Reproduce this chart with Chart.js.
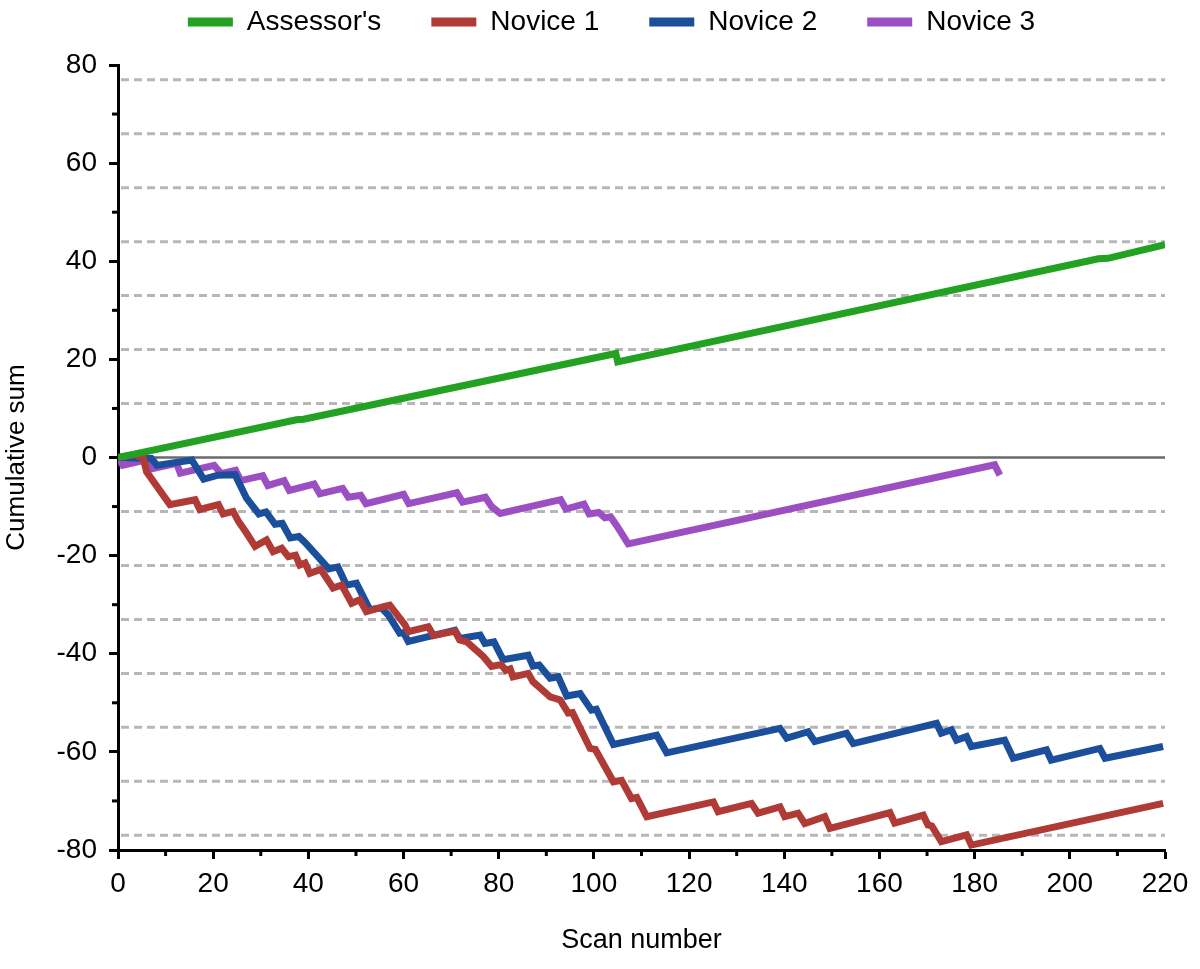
<!DOCTYPE html>
<html>
<head>
<meta charset="utf-8">
<title>Cumulative sum chart</title>
<script src="https://cdn.jsdelivr.net/npm/chart.js"></script>
<style>
body{margin:0;background:#fff;}
#wrap{width:1200px;height:969px;}
</style>
</head>
<body>
<div id="wrap"><canvas id="cusumChart" width="1200" height="969"></canvas></div>
<script>

/* -------- DATA (scan number, cumulative sum) -------- */

const seriesNames = ["Assessor's","Novice 1","Novice 2","Novice 3"];

const assessor = [[0,0],[37.5,7.7],[39,7.8],[104.6,21.2],[105,19.5],[206,40.5],[208,40.6],[220,43.4]];

const novice1 = [[0,0],[3.3,0.6],[5.3,-0.1],[6,-2.9],[10.9,-9.6],[16.2,-8.6],[17.2,-10.6],[21.1,-9.6],[22.1,-11.5],[24.2,-11],[25.3,-13],[27,-15.4],[28.8,-18.1],[31.2,-16.8],[32.6,-19.2],[34.4,-18.5],[35.8,-20.2],[37.3,-19.9],[38.2,-21.9],[39.3,-21.5],[40.3,-23.6],[42.6,-22.8],[45.2,-26.6],[47,-26],[49.1,-29.7],[50.8,-29],[52.2,-31.4],[55.4,-30.5],[57.1,-30.1],[60.3,-34.1],[61,-35.5],[65.2,-34.5],[66.3,-36.3],[70.8,-35.4],[71.8,-37.2],[73.3,-37.6],[76.8,-40.6],[78.5,-42.6],[80.5,-42.2],[81.5,-43.4],[82.4,-43.1],[83,-44.7],[86.2,-44],[87.2,-45.7],[88.5,-46.8],[90.8,-48.8],[92.9,-49.4],[94.6,-52.1],[95.5,-52],[99.2,-59.3],[100.3,-59.5],[104.1,-66.1],[105.8,-65.8],[107.9,-69.5],[109,-69.3],[111.1,-73.2],[125.1,-70.2],[126.1,-72.2],[133.1,-70.5],[134.5,-72.5],[139.1,-71.2],[140.1,-73.2],[142.9,-72.5],[144.3,-74.6],[148.5,-73.2],[149.6,-75.6],[162.2,-72.4],[163.2,-74.5],[169.2,-72.9],[170.2,-74.9],[171,-75.1],[173,-78.3],[178.3,-76.9],[179.3,-79],[219.6,-70.5]];

const novice2 = [[0,0],[7,-0.2],[8.2,-1.6],[15.5,-0.5],[18,-4.4],[21,-3.6],[24.6,-3.5],[27,-8.3],[29.6,-11.5],[31.1,-11.1],[33,-13.6],[34.5,-13.4],[36.2,-16.4],[38,-16.1],[39.2,-17.2],[42,-20.2],[44.3,-22.7],[46.2,-22.3],[48,-26],[50.1,-25.6],[52.9,-31],[55.4,-30.7],[56.8,-32.1],[59.2,-35.8],[60,-35.7],[61,-37.5],[70.8,-35.2],[71.8,-36.9],[76.1,-36.2],[77.1,-37.9],[79,-37.6],[80.9,-41.2],[86.2,-40.3],[87.2,-42.5],[88.5,-42.3],[90.8,-45],[92.5,-44.7],[94.3,-48.6],[97.1,-48.1],[99.5,-51.5],[100.5,-51.3],[104.1,-58.5],[113.2,-56.6],[115.3,-60.2],[139.1,-55.2],[140.5,-57.2],[145,-55.9],[146.4,-57.9],[153.1,-56.2],[154.5,-58.3],[172,-54.2],[173,-56.2],[175.1,-55.5],[176.2,-57.6],[178.3,-56.9],[179.3,-58.9],[186.3,-57.6],[188.1,-61.3],[195.1,-59.6],[196.1,-61.7],[206.3,-59.3],[207.4,-61.3],[219.6,-58.9]];

const novice3 = [[0,0],[1,-1.6],[6,-0.5],[7.1,-2.3],[12.3,-1.2],[13.1,-3.2],[20.2,-1.6],[21.7,-3.3],[24.7,-2.6],[25.8,-4.7],[30.4,-3.7],[31.5,-5.7],[34.9,-4.7],[36,-6.7],[41.2,-5.4],[42.4,-7.4],[47.2,-6.3],[48.4,-8.1],[51,-7.7],[52.1,-9.4],[60,-7.5],[61.1,-9.4],[71.2,-7.2],[72.4,-9.1],[77.2,-8.1],[78.5,-10],[80.3,-11.4],[93,-8.6],[94.1,-10.5],[97.9,-9.5],[99,-11.5],[101,-11.2],[102.3,-12.3],[103.5,-12.1],[104.8,-13.9],[107.2,-17.6],[184.2,-1.5],[185.3,-3.6]];

// horizontal limit lines (dashed) and the zero line
const limitLines = [-77,-66,-55,-44,-33,-22,-11,11,22,33,44,55,66,77];
const zeroLine = 0;

// minor tick positions
const xMinorTicks = [10,30,50,70,90,110,130,150,170,190,210];
const yMinorTicks = [-70,-50,-30,-10,10,30,50,70];

const colors = ["#22a122","#b03a36","#1b4f9b","#9b4fc3"];


/* -------- HELPERS -------- */

function toPoints(arr){
return arr.map(p=>({x:p[0],y:p[1]}));
}

Chart.defaults.font.family = "'Liberation Sans', Arial, sans-serif";
Chart.defaults.color = "#000";


/* -------- PLUGINS -------- */

const refLines = {
id:"refLines",
beforeDatasetsDraw(chart){
const c = chart.ctx;
const xs = chart.scales.x;
const ys = chart.scales.y;
const area = chart.chartArea;
c.save();
c.strokeStyle = "#b7b7b7";
c.lineWidth = 3;
c.setLineDash([8,5]);
limitLines.forEach(v=>{
const py = ys.getPixelForValue(v);
c.beginPath();
c.moveTo(area.left+3,py);
c.lineTo(area.right,py);
c.stroke();
});
c.setLineDash([]);
c.strokeStyle = "#6a6a6a";
c.lineWidth = 2.5;
const pz = ys.getPixelForValue(zeroLine);
c.beginPath();
c.moveTo(xs.getPixelForValue(0),pz);
c.lineTo(xs.getPixelForValue(220),pz);
c.stroke();
c.restore();
}
};

const minorTicks = {
id:"minorTicks",
afterDraw(chart){
const c = chart.ctx;
const xs = chart.scales.x;
const ys = chart.scales.y;
const area = chart.chartArea;
c.save();
c.strokeStyle = "#000";
c.lineWidth = 3;
xMinorTicks.forEach(v=>{
const px = xs.getPixelForValue(v);
c.beginPath();
c.moveTo(px,area.bottom);
c.lineTo(px,area.bottom+6);
c.stroke();
});
yMinorTicks.forEach(v=>{
const py = ys.getPixelForValue(v);
c.beginPath();
c.moveTo(area.left-6,py);
c.lineTo(area.left,py);
c.stroke();
});
c.restore();
}
};

// move the legend into place after the layout is done
const legendPlace = {
id:"legendPlace",
afterLayout(chart){
const lg = chart.legend;
lg.left += 29;
lg.right += 29;
lg.top -= 19;
lg.bottom -= 19;
}
};


/* -------- CHART -------- */

const allSeries = [assessor,novice1,novice2,novice3];
const drawOrder = [0,1,2,3];

const ctx = document.getElementById("cusumChart").getContext("2d");

new Chart(ctx,{
type:"line",
data:{
datasets: allSeries.map((s,i)=>({
label:seriesNames[i],
data:toPoints(s),
borderColor:colors[i],
backgroundColor:colors[i],
borderWidth:7,
pointRadius:0,
tension:0,
fill:false,
order:drawOrder[i]
}))
},
options:{
responsive:false,
animation:false,
layout:{padding:{left:0,right:35,top:-23,bottom:0}},
plugins:{
legend:{
display:true,
position:"top",
labels:{
font:{size:28},
boxWidth:45,
boxHeight:9,
padding:50,
generateLabels(chart){
return Chart.defaults.plugins.legend.labels.generateLabels(chart).map(l=>Object.assign(l,{lineWidth:0}));
}
}
},
tooltip:{enabled:false}
},
scales:{
x:{
type:"linear",
min:0,
max:220,
afterFit(scale){ scale.height = 119; },
ticks:{stepSize:20,font:{size:28},padding:8,maxRotation:0},
grid:{drawOnChartArea:false,drawTicks:true,tickLength:9,tickWidth:3,tickColor:"#000"},
border:{display:true,color:"#000",width:3},
title:{display:true,text:"Scan number",font:{size:27},padding:{top:0,bottom:12}}
},
y:{
type:"linear",
min:-80,
max:80,
afterFit(scale){ scale.width = 118; },
ticks:{stepSize:20,font:{size:28},padding:12},
grid:{drawOnChartArea:false,drawTicks:true,tickLength:9,tickWidth:3,tickColor:"#000"},
border:{display:true,color:"#000",width:3},
title:{display:true,text:"Cumulative sum",font:{size:26},padding:{top:1,bottom:0}}
}
}
},
plugins:[refLines,minorTicks,legendPlace]
});

</script>
</body>
</html>
